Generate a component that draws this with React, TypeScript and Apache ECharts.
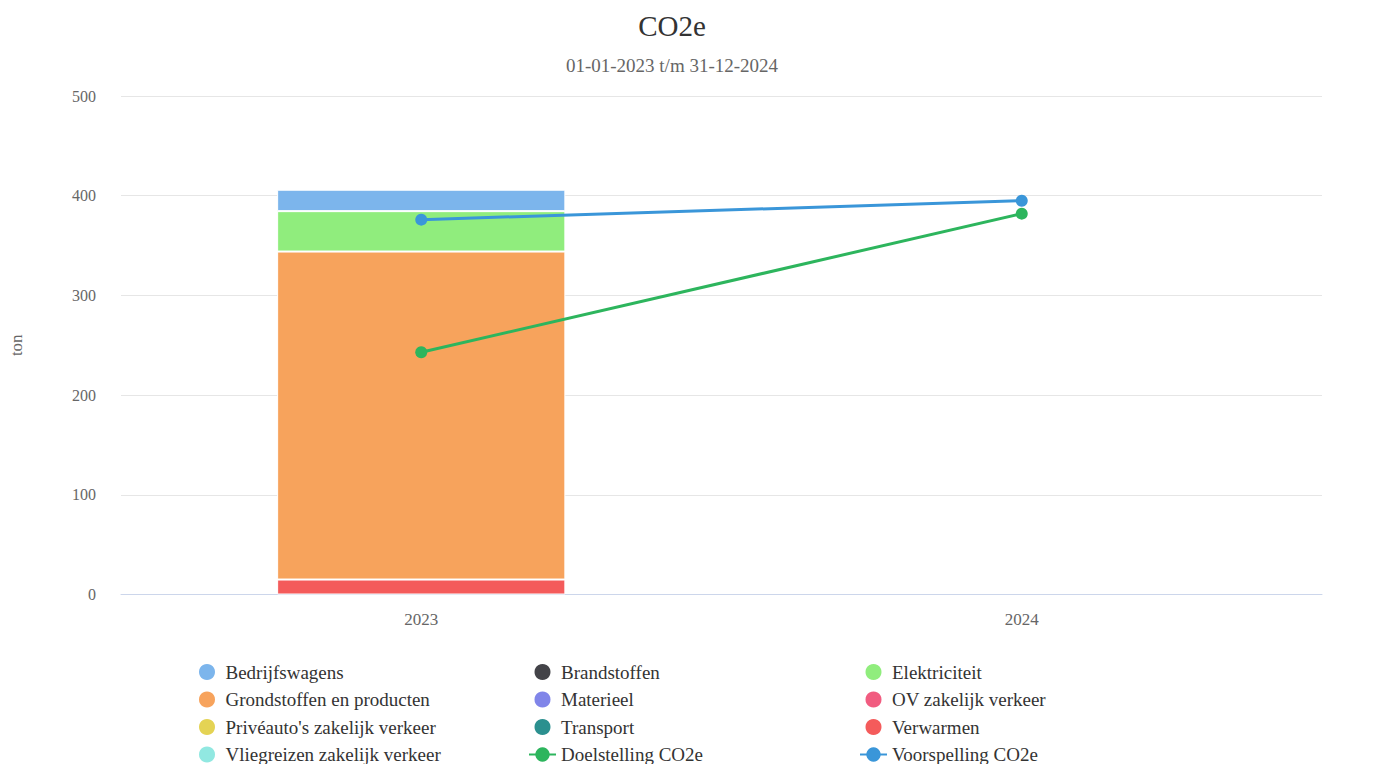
import React, { useEffect, useRef } from "react";
import * as echarts from "echarts";

const categories = ["2023", "2024"];
const yTicks = [0, 100, 200, 300, 400, 500];

const bedrijfswagens = [21.5, null];
const brandstoffen = [null, null];
const elektriciteit = [40.5, null];
const grondstoffen = [329, null];
const materieel = [null, null];
const ovZakelijk = [null, null];
const priveauto = [null, null];
const transport = [null, null];
const verwarmen = [15, null];
const vliegreizen = [null, null];
const doelstelling = [243, 382];
const voorspelling = [376, 395];

const barSeries = [
  { name: "Verwarmen", data: verwarmen, color: "#f45b5b" },
  { name: "Vliegreizen zakelijk verkeer", data: vliegreizen, color: "#91e8e1" },
  { name: "Transport", data: transport, color: "#2b908f" },
  { name: "Privéauto's zakelijk verkeer", data: priveauto, color: "#e4d354" },
  { name: "OV zakelijk verkeer", data: ovZakelijk, color: "#f15c80" },
  { name: "Materieel", data: materieel, color: "#8085e9" },
  { name: "Grondstoffen en producten", data: grondstoffen, color: "#f7a35c" },
  { name: "Elektriciteit", data: elektriciteit, color: "#90ed7d" },
  { name: "Brandstoffen", data: brandstoffen, color: "#434348" },
  { name: "Bedrijfswagens", data: bedrijfswagens, color: "#7cb5ec" },
];

const lineSeries = [
  { name: "Doelstelling CO2e", data: doelstelling, color: "#2db55d" },
  { name: "Voorspelling CO2e", data: voorspelling, color: "#3a96d9" },
];

const legendCols = [
  ["Bedrijfswagens", "Grondstoffen en producten", "Privéauto's zakelijk verkeer", "Vliegreizen zakelijk verkeer"],
  ["Brandstoffen", "Materieel", "Transport", "Doelstelling CO2e"],
  ["Elektriciteit", "OV zakelijk verkeer", "Verwarmen", "Voorspelling CO2e"],
];
const lineNames = lineSeries.map((s) => s.name);

const FONT = "'Liberation Serif', 'Times New Roman', serif";

export default function App() {
  const ref = useRef<HTMLDivElement>(null);
  useEffect(() => {
    if (!ref.current) return;
    const chart = echarts.init(ref.current, null, { renderer: "svg" });
    const legendLefts = [197, 528, 859];
    chart.setOption({
      animation: false,
      backgroundColor: "#ffffff",
      textStyle: { fontFamily: FONT },
      title: {
        text: "CO2e",
        subtext: "01-01-2023 t/m 31-12-2024",
        left: 667,
        textAlign: "center",
        top: 6,
        itemGap: 16,
        textStyle: { fontFamily: FONT, fontSize: 29, fontWeight: "normal", color: "#333333" },
        subtextStyle: { fontFamily: FONT, fontSize: 19, color: "#666666" },
      },
      legend: legendCols.map((col, i) => ({
        orient: "vertical",
        left: legendLefts[i],
        top: 662,
        height: 110,
        padding: 0,
        itemGap: 7.5,
        itemWidth: 27,
        itemHeight: 18,
        selectedMode: false,
        textStyle: { fontFamily: FONT, fontSize: 19, lineHeight: 20, color: "#333333" },
        data: col.map((n) => (lineNames.includes(n) ? { name: n } : { name: n, icon: "circle" })),
      })),
      grid: { left: 121, right: 52, top: 96, bottom: 169.5, containLabel: false },
      xAxis: {
        type: "category",
        data: categories,
        axisLine: { lineStyle: { color: "#ccd6eb" } },
        axisTick: { show: false },
        axisLabel: { fontFamily: FONT, fontSize: 17, color: "#666666", margin: 16 },
      },
      yAxis: {
        type: "value",
        min: yTicks[0],
        max: yTicks[yTicks.length - 1],
        interval: 100,
        name: "ton",
        nameLocation: "middle",
        nameGap: 96,
        nameTextStyle: { fontFamily: FONT, fontSize: 17, color: "#666666" },
        axisLabel: { fontFamily: FONT, fontSize: 16, color: "#666666", margin: 25 },
        splitLine: { lineStyle: { color: "#e6e6e6" } },
        axisLine: { show: false },
        axisTick: { show: false },
      },
      series: [
        ...barSeries.map((s) => ({
          type: "bar",
          name: s.name,
          stack: "total",
          data: s.data,
          barWidth: "48%",
          itemStyle: { color: s.color, borderColor: "#ffffff", borderWidth: 1 },
          emphasis: { disabled: true },
        })),
        ...lineSeries.map((s) => ({
          type: "line",
          name: s.name,
          data: s.data,
          symbol: "circle",
          symbolSize: 12,
          z: 5,
          lineStyle: { width: 3, color: s.color },
          itemStyle: { color: s.color },
          emphasis: { disabled: true },
        })),
      ],
    });
    return () => chart.dispose();
  }, []);
  return (
    <div
      ref={ref}
      style={{ position: "fixed", left: 0, top: 0, width: 1374, height: 764 }}
    />
  );
}
